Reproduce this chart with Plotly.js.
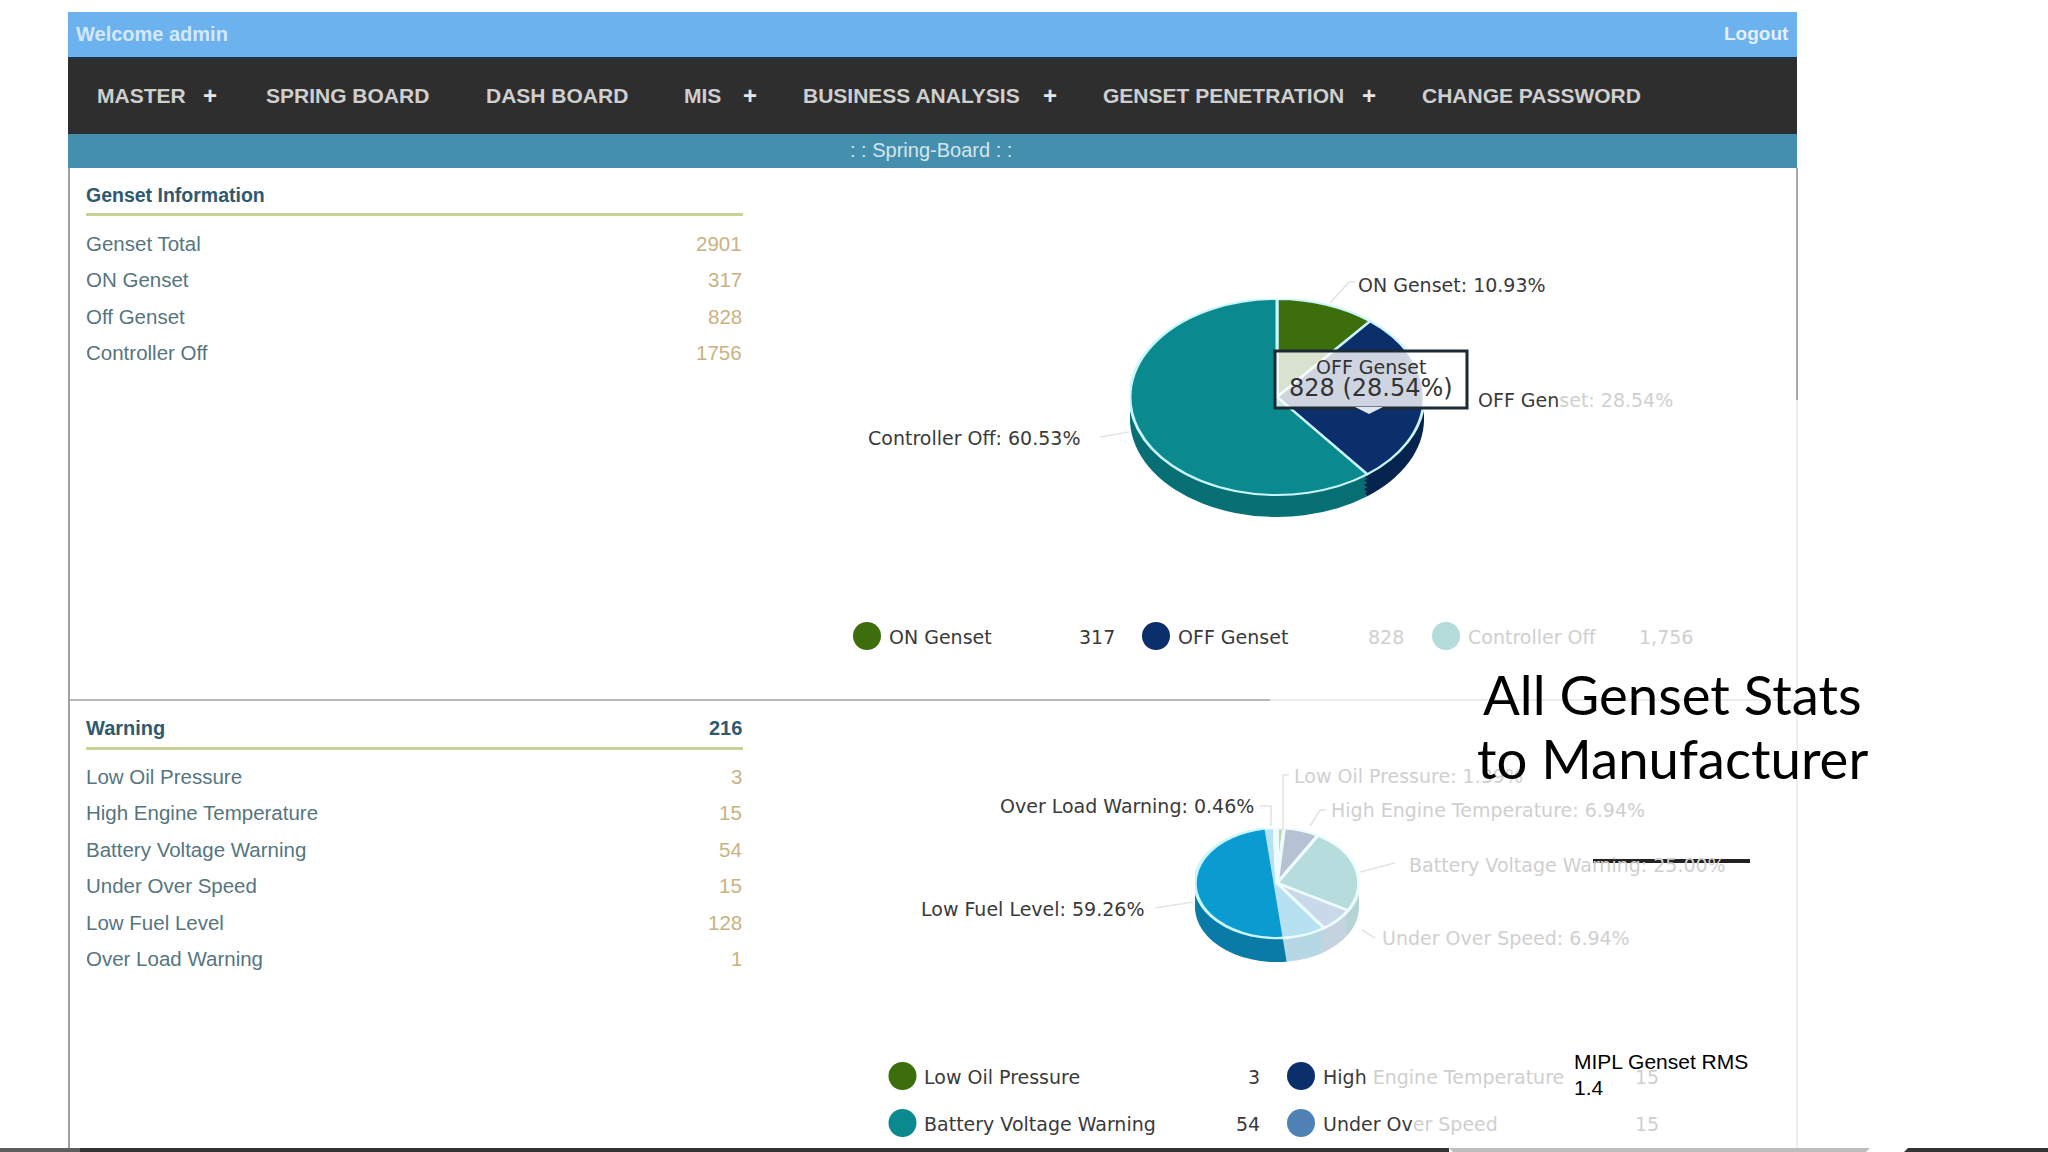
<!DOCTYPE html>
<html><head><meta charset="utf-8">
<script src="https://cdn.plot.ly/plotly-3.0.1.min.js"></script>
<style>
html,body{margin:0;padding:0;background:#fff;width:2048px;height:1152px;overflow:hidden}
.lay{position:absolute;left:0;top:0}
</style></head><body>
<div id="pieA" class="lay"></div>
<div id="pieB" class="lay"></div>
<div id="main" class="lay" style="width:2048px;height:1152px"></div>
<script>
// ---- data ----
const gensetRowLabels = ["Genset Total","ON Genset","Off Genset","Controller Off"];
const gensetRowValues = [2901,317,828,1756];
const gensetPieLabels = ["ON Genset","OFF Genset","Controller Off"];
const gensetPieValues = [317,828,1756];
const warningTotal = 216;
const warningLabels = ["Low Oil Pressure","High Engine Temperature","Battery Voltage Warning","Under Over Speed","Low Fuel Level","Over Load Warning"];
const warningValues = [3,15,54,15,128,1];
const navItems = ["MASTER","SPRING BOARD","DASH BOARD","MIS","BUSINESS ANALYSIS","GENSET PENETRATION","CHANGE PASSWORD"];
const gensetColors = ["#3c6e0c","#0b2f6b","#0a8a8e"];
const gensetSide = ["#2c5208","#07244f","#086f74"];
const warningColors = ["#3c6e0c","#0b2f6b","#0a8a8e","#4f81b4","#0a9bd0","#6fb4d8"];
const warningSide = ["#2c5208","#07244f","#086f74","#3d6a96","#0a7aa6","#5a98b8"];

const SANS="Liberation Sans, Arial, sans-serif", DJ="DejaVu Sans, Verdana, sans-serif";
const DARK="#3a3a3a", FADE="#cfcfcf";
const pct=(v,arr)=>(v/arr.reduce((a,b)=>a+b,0)*100).toFixed(2)+"%";

function drawPie(id,cx,cy,rx,ry,d,values,labels,colors,side,lineW){
  const s=ry/rx, W=2*rx, u=d/s, H=W+u;
  const el=document.getElementById(id);
  el.style.cssText+=`;left:${cx-rx}px;top:${cy-ry}px;width:${W}px;height:${H}px;transform:scaleY(${s});transform-origin:0 0`;
  const offs=[1,0.8,0.6,0.4,0.2,0];
  const traces=offs.map(f=>{
    const o=u*f, top=f===0;
    return {type:"pie",values:values,labels:labels,sort:false,direction:"clockwise",rotation:0,
      textinfo:"none",hoverinfo:"skip",showlegend:false,
      domain:{x:[0,1],y:[1-(W+o)/H,1-o/H]},
      marker:{colors:top?colors:side,line:{color:top?"#c9f6fb":"rgba(0,0,0,0)",width:top?lineW:0}}};
  });
  Plotly.newPlot(el,traces,{width:W,height:H,margin:{l:0,r:0,t:0,b:0},paper_bgcolor:"rgba(0,0,0,0)",showlegend:false},{staticPlot:true,displayModeBar:false});
}
drawPie("pieA",1277,397,147,98,22,gensetPieValues,gensetPieLabels,gensetColors,gensetSide,3);
drawPie("pieB",1277,883,82,55,24,warningValues,warningLabels,warningColors,warningSide,3.5);

const X=x=>x/2048, Y=y=>1-y/1152;
const shapes=[], ann=[];
function rect(x0,y0,x1,y1,c){shapes.push({type:"rect",xref:"paper",yref:"paper",x0:X(x0),x1:X(x1),y0:Y(y0),y1:Y(y1),fillcolor:c,line:{width:0}});}
function circ(cx,cy,r,c,glow){shapes.push({type:"circle",xref:"paper",yref:"paper",x0:X(cx-r),x1:X(cx+r),y0:Y(cy-r),y1:Y(cy+r),fillcolor:c,line:{width:glow?1.5:0,color:glow||c}});}
function path(pts,opt){const d=pts.map((p,i)=>(i?"L":"M")+X(p[0])+","+Y(p[1])).join(" ")+(opt.close?" Z":"");
  shapes.push({type:"path",xref:"paper",yref:"paper",path:d,fillcolor:opt.fill||"rgba(0,0,0,0)",line:{width:opt.w||0,color:opt.c||"rgba(0,0,0,0)"}});}
function txt(x,y,t,o){o=o||{};ann.push({xref:"paper",yref:"paper",x:X(x),y:Y(y),text:t,showarrow:false,xanchor:o.a||"left",yanchor:"middle",align:o.al||(o.a==="right"?"right":"left"),
  font:{family:o.f||SANS,size:o.s||20.5,color:o.c||"#56757f",weight:o.b?700:400},borderpad:0,borderwidth:0});}
const fade=(a,b)=>`<span style="color:${DARK}">${a}</span><span style="color:${FADE}">${b}</span>`;

// page bars
rect(68,12,1797,57,"#6cb2ef");
rect(68,57,1797,134,"#2e2e2e");
rect(68,57,1797,60,"#24343c");
rect(68,134,1797,168,"#448fae");
rect(68,168,70,1152,"#a0a0a0");
rect(1796,168,1798,400,"#a8a8a8");
rect(1796,400,1798,1152,"#ececf2");
rect(70,699,1270,701,"#b8b8b8");
rect(1270,699,1796,701,"#ececec");
rect(0,1148,1449,1152,"#333333");
rect(0,1148,80,1152,"#5e5e5e");
path([[1449,1148],[1870,1148],[1866,1152],[1453,1152]],{close:1,fill:"#bdbdbd"});
path([[1908,1148],[2048,1148],[2048,1152],[1904,1152]],{close:1,fill:"#333333"});
txt(76,34,"Welcome admin",{b:1,c:"#d3e8f8",s:20});
txt(1789,34,"Logout",{a:"right",b:1,c:"#e3f0fa",s:19});
const navX=[97,266,486,684,803,1103,1422];
navItems.forEach((n,i)=>txt(navX[i],95,n,{b:1,c:"#cfcfcf",s:21}));
[210,750,1050,1369].forEach(x=>txt(x,95,"+",{a:"center",b:1,c:"#e6e6e6",s:24}));
txt(931,150,": : Spring-Board : :",{a:"center",c:"#d5e6ec",s:20});

// tables
txt(86,195,"Genset Information",{b:1,c:"#2f5a6e",s:19.5});
rect(86,213,743,216,"#c8d295");
const rowA=[243,279.5,316,352.6];
gensetRowLabels.forEach((l,i)=>{txt(86,rowA[i],l);txt(742,rowA[i],String(gensetRowValues[i]),{a:"right",c:"#c9b282"});});
txt(86,728,"Warning",{b:1,c:"#2f5a6e",s:20});
txt(742,728,String(warningTotal),{a:"right",b:1,c:"#2f5a6e",s:20});
rect(86,747,743,750,"#c8d295");
const rowB=[776,812.5,849,885.5,922,958.6];
warningLabels.forEach((l,i)=>{txt(86,rowB[i],l);txt(742,rowB[i],String(warningValues[i]),{a:"right",c:"#c9b282"});});

// veil over the right part of the lower pie (faded slide transition)
path([[1263,820],[1288,970],[1372,970],[1372,820]],{close:1,fill:"rgba(255,255,255,0.7)"});

// leader lines
const LL="#e4e4e4";
[[[1330,303],[1349,282],[1355,282]],[[1129,432],[1100,437]],[[1193,902],[1155,908]],[[1360,872],[1395,863]],
 [[1362,930],[1375,938]],[[1310,826],[1320,810],[1326,810]],[[1283,830],[1283,775],[1289,775]],[[1271,826],[1271,806],[1260,806]]]
 .forEach(p=>path(p,{w:1.5,c:LL}));

// pie labels
const g=gensetPieValues, w=warningValues, LS=19;
txt(1358,285,`ON Genset: ${pct(g[0],g)}`,{f:DJ,s:LS,c:DARK});
txt(1478,400,fade("OFF Gen",`set: ${pct(g[1],g)}`),{f:DJ,s:LS});
txt(868,438,`Controller Off: ${pct(g[2],g)}`,{f:DJ,s:LS,c:DARK});
txt(1294,776,`Low Oil Pressure: ${pct(w[0],w)}`,{f:DJ,s:LS,c:FADE});
txt(1331,810,`High Engine Temperature: ${pct(w[1],w)}`,{f:DJ,s:LS,c:FADE});
txt(1409,865,`Battery Voltage Warning: ${pct(w[2],w)}`,{f:DJ,s:LS,c:FADE});
txt(1382,938,`Under Over Speed: ${pct(w[3],w)}`,{f:DJ,s:LS,c:FADE});
txt(1254,806,`Over Load Warning: ${pct(w[5],w)}`,{f:DJ,s:LS,a:"right",c:DARK});
txt(1144,909,`Low Fuel Level: ${pct(w[4],w)}`,{f:DJ,s:LS,a:"right",c:DARK});

// legends
const num=v=>v.toLocaleString("en-US");
circ(867,636,14,gensetColors[0]);txt(889,637,gensetPieLabels[0],{f:DJ,s:LS,c:DARK});txt(1115,637,num(g[0]),{f:DJ,s:LS,a:"right",c:DARK});
circ(1156,636,14,gensetColors[1]);txt(1178,637,gensetPieLabels[1],{f:DJ,s:LS,c:DARK});txt(1404,637,num(g[1]),{f:DJ,s:LS,a:"right",c:FADE});
circ(1446,636,14,"#b5dbdb");txt(1468,637,gensetPieLabels[2],{f:DJ,s:LS,c:FADE});txt(1693,637,num(g[2]),{f:DJ,s:LS,a:"right",c:FADE});
circ(902.5,1076,14,warningColors[0]);txt(924,1077,warningLabels[0],{f:DJ,s:LS,c:DARK});txt(1260,1077,num(w[0]),{f:DJ,s:LS,a:"right",c:DARK});
circ(1301,1076,14,warningColors[1]);txt(1323,1077,fade("High"," Engine Temperature"),{f:DJ,s:LS});txt(1659,1077,num(w[1]),{f:DJ,s:LS,a:"right",c:FADE});
circ(902.5,1123,14,warningColors[2]);txt(924,1124,warningLabels[2],{f:DJ,s:LS,c:DARK});txt(1260,1124,num(w[2]),{f:DJ,s:LS,a:"right",c:DARK});
circ(1301,1123,14,warningColors[3]);txt(1323,1124,fade("Under Ov","er Speed"),{f:DJ,s:LS});txt(1659,1124,num(w[3]),{f:DJ,s:LS,a:"right",c:FADE});

// tooltip
rect(1275,351,1467,408,"rgba(255,255,255,0.8)");
path([[1275,351],[1467,351],[1467,408],[1275,408]],{close:1,w:3,c:"#1c2a33"});
path([[1355,407],[1383,407],[1369,414]],{close:1,fill:"rgba(235,240,248,0.95)"});
txt(1371,367,gensetPieLabels[1],{f:DJ,s:19,a:"center",c:"#333"});
txt(1371,388,`${num(g[1])} (${pct(g[1],g)})`,{f:DJ,s:24,a:"center",c:"#333"});

// slide overlay texts
txt(1672,694,"All Genset Stats",{f:"Lato, sans-serif",s:54.5,a:"center",c:"#000"});
txt(1672,758,"to Manufacturer",{f:"Lato, sans-serif",s:54.5,a:"center",c:"#000"});
rect(1593,859,1750,863,"#222222");
txt(1574,1061,"MIPL Genset RMS",{s:21,c:"#000"});
txt(1574,1087,"1.4",{s:21,c:"#000"});

Plotly.newPlot("main",[],{width:2048,height:1152,margin:{l:0,r:0,t:0,b:0},paper_bgcolor:"rgba(0,0,0,0)",plot_bgcolor:"rgba(0,0,0,0)",
  xaxis:{visible:false},yaxis:{visible:false},shapes:shapes,annotations:ann,showlegend:false},{staticPlot:true,displayModeBar:false});
</script></body></html>
